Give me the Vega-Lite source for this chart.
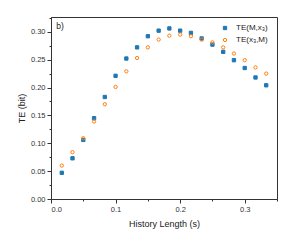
{
  "$schema": "https://vega.github.io/schema/vega-lite/v6.json",
  "width": 226,
  "height": 182,
  "autosize": "none",
  "padding": {"left": 51, "top": 17, "right": 17, "bottom": 46},
  "background": "white",
  "config": {
    "font": "Liberation Sans",
    "view": {"stroke": "#333333", "strokeWidth": 1},
    "axis": {"grid": false, "domainColor": "#333333", "tickColor": "#333333", "labelColor": "#333333", "titleColor": "#222222", "labelFont": "Liberation Sans", "titleFont": "Liberation Sans", "labelFontSize": 7.5, "titleFontSize": 9, "titleFontWeight": "normal"}
  },
  "data": {"values": [
    {"h": 0.0167, "te": 0.047, "s": "TE(M,x₃)"},
    {"h": 0.0333, "te": 0.073, "s": "TE(M,x₃)"},
    {"h": 0.05, "te": 0.106, "s": "TE(M,x₃)"},
    {"h": 0.0667, "te": 0.145, "s": "TE(M,x₃)"},
    {"h": 0.0833, "te": 0.183, "s": "TE(M,x₃)"},
    {"h": 0.1, "te": 0.221, "s": "TE(M,x₃)"},
    {"h": 0.1167, "te": 0.252, "s": "TE(M,x₃)"},
    {"h": 0.1333, "te": 0.272, "s": "TE(M,x₃)"},
    {"h": 0.15, "te": 0.292, "s": "TE(M,x₃)"},
    {"h": 0.1667, "te": 0.302, "s": "TE(M,x₃)"},
    {"h": 0.1833, "te": 0.306, "s": "TE(M,x₃)"},
    {"h": 0.2, "te": 0.302, "s": "TE(M,x₃)"},
    {"h": 0.2167, "te": 0.298, "s": "TE(M,x₃)"},
    {"h": 0.2333, "te": 0.288, "s": "TE(M,x₃)"},
    {"h": 0.25, "te": 0.277, "s": "TE(M,x₃)"},
    {"h": 0.2667, "te": 0.264, "s": "TE(M,x₃)"},
    {"h": 0.2833, "te": 0.249, "s": "TE(M,x₃)"},
    {"h": 0.3, "te": 0.235, "s": "TE(M,x₃)"},
    {"h": 0.3167, "te": 0.218, "s": "TE(M,x₃)"},
    {"h": 0.3333, "te": 0.204, "s": "TE(M,x₃)"},
    {"h": 0.0167, "te": 0.060, "s": "TE(x₃,M)"},
    {"h": 0.0333, "te": 0.084, "s": "TE(x₃,M)"},
    {"h": 0.05, "te": 0.109, "s": "TE(x₃,M)"},
    {"h": 0.0667, "te": 0.139, "s": "TE(x₃,M)"},
    {"h": 0.0833, "te": 0.170, "s": "TE(x₃,M)"},
    {"h": 0.1, "te": 0.201, "s": "TE(x₃,M)"},
    {"h": 0.1167, "te": 0.229, "s": "TE(x₃,M)"},
    {"h": 0.1333, "te": 0.253, "s": "TE(x₃,M)"},
    {"h": 0.15, "te": 0.272, "s": "TE(x₃,M)"},
    {"h": 0.1667, "te": 0.286, "s": "TE(x₃,M)"},
    {"h": 0.1833, "te": 0.293, "s": "TE(x₃,M)"},
    {"h": 0.2, "te": 0.295, "s": "TE(x₃,M)"},
    {"h": 0.2167, "te": 0.292, "s": "TE(x₃,M)"},
    {"h": 0.2333, "te": 0.286, "s": "TE(x₃,M)"},
    {"h": 0.25, "te": 0.281, "s": "TE(x₃,M)"},
    {"h": 0.2667, "te": 0.272, "s": "TE(x₃,M)"},
    {"h": 0.2833, "te": 0.261, "s": "TE(x₃,M)"},
    {"h": 0.3, "te": 0.249, "s": "TE(x₃,M)"},
    {"h": 0.3167, "te": 0.236, "s": "TE(x₃,M)"},
    {"h": 0.3333, "te": 0.225, "s": "TE(x₃,M)"}
  ]},
  "resolve": {"axis": {"x": "independent", "y": "independent"}},
  "layer": [
    {
      "mark": {"type": "point", "size": 11, "strokeWidth": 1, "opacity": 1},
      "encoding": {
        "x": {"field": "h", "type": "quantitative", "scale": {"domain": [0, 0.35], "nice": false, "zero": false},
              "axis": {"orient": "bottom", "values": [0, 0.1, 0.2, 0.3], "format": ".1f", "tickSize": 4, "labelPadding": 2, "title": "History Length (s)", "titlePadding": 7}},
        "y": {"field": "te", "type": "quantitative", "scale": {"domain": [0, 0.3265], "nice": false, "zero": false},
              "axis": {"orient": "left", "values": [0, 0.05, 0.1, 0.15, 0.2, 0.25, 0.3], "format": ".2f", "tickSize": 4, "labelPadding": 2, "title": "TE (bit)", "titlePadding": 4}},
        "shape": {"field": "s", "type": "nominal", "scale": {"domain": ["TE(M,x₃)", "TE(x₃,M)"], "range": ["square", "circle"]},
                  "legend": {"title": null, "orient": "none", "legendX": 170, "legendY": 7, "padding": 0, "labelFontSize": 8, "labelFont": "Liberation Sans", "labelColor": "#222222", "symbolSize": 11, "symbolStrokeWidth": 1, "rowPadding": 4, "labelOffset": 7}},
        "fill": {"field": "s", "type": "nominal", "scale": {"domain": ["TE(M,x₃)", "TE(x₃,M)"], "range": ["#1f77b4", "transparent"]}, "legend": {"title": null, "orient": "none", "legendX": 170, "legendY": 7, "padding": 0, "labelFontSize": 8, "labelFont": "Liberation Sans", "labelColor": "#222222", "symbolSize": 11, "symbolStrokeWidth": 1, "rowPadding": 4, "labelOffset": 7}},
        "stroke": {"field": "s", "type": "nominal", "scale": {"domain": ["TE(M,x₃)", "TE(x₃,M)"], "range": ["#1f77b4", "#ff7f0e"]}, "legend": {"title": null, "orient": "none", "legendX": 170, "legendY": 7, "padding": 0, "labelFontSize": 8, "labelFont": "Liberation Sans", "labelColor": "#222222", "symbolSize": 11, "symbolStrokeWidth": 1, "rowPadding": 4, "labelOffset": 7}}
      }
    },
    {
      "data": {"values": [{"label": "b)"}]},
      "mark": {"type": "text", "align": "left", "baseline": "middle", "fontSize": 8.5, "font": "Liberation Sans", "color": "#222222"},
      "encoding": {
        "text": {"field": "label", "type": "nominal"},
        "x": {"datum": 0.008, "type": "quantitative", "axis": {"orient": "bottom", "values": [0.05, 0.15, 0.25, 0.35], "labels": false, "domain": false, "tickSize": 2, "title": null}},
        "y": {"datum": 0.3095, "type": "quantitative", "axis": {"orient": "left", "values": [0.025, 0.075, 0.125, 0.175, 0.225, 0.275, 0.325], "labels": false, "domain": false, "tickSize": 2, "title": null}}
      }
    }
  ]
}
